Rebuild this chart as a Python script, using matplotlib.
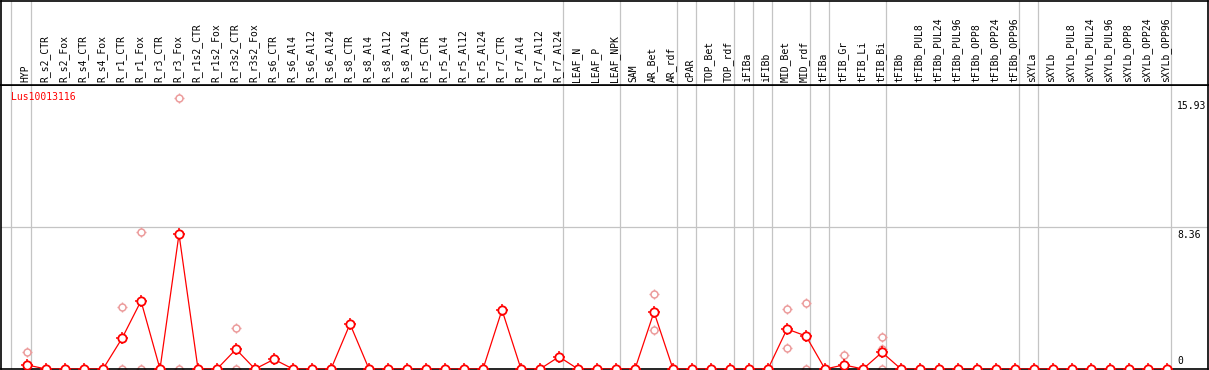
import matplotlib
matplotlib.use("Agg")
import matplotlib.pyplot as plt

# sample names (columns), left to right
samples = [
    "HYP", "R_s2_CTR", "R_s2_Fox", "R_s4_CTR", "R_s4_Fox",
    "R_r1_CTR", "R_r1_Fox", "R_r3_CTR", "R_r3_Fox",
    "R_r1s2_CTR", "R_r1s2_Fox", "R_r3s2_CTR", "R_r3s2_Fox",
    "R_s6_CTR", "R_s6_Al4", "R_s6_Al12", "R_s6_Al24",
    "R_s8_CTR", "R_s8_Al4", "R_s8_Al12", "R_s8_Al24",
    "R_r5_CTR", "R_r5_Al4", "R_r5_Al12", "R_r5_Al24",
    "R_r7_CTR", "R_r7_Al4", "R_r7_Al12", "R_r7_Al24",
    "LEAF_N", "LEAF_P", "LEAF_NPK", "SAM", "AR_Bet", "AR_rdf", "cPAR",
    "TOP_Bet", "TOP_rdf", "iFIBa", "iFIBb", "MID_Bet", "MID_rdf",
    "tFIBa", "tFIB_Gr", "tFIB_Li", "tFIB_Bi", "tFIBb",
    "tFIBb_PUL8", "tFIBb_PUL24", "tFIBb_PUL96",
    "tFIBb_OPP8", "tFIBb_OPP24", "tFIBb_OPP96",
    "sXYLa", "sXYLb", "sXYLb_PUL8", "sXYLb_PUL24", "sXYLb_PUL96",
    "sXYLb_OPP8", "sXYLb_OPP24", "sXYLb_OPP96",
]

# mean expression per sample (line)
mean_values = [
    0.24, 0, 0, 0, 0,
    1.80, 4.00, 0, 7.93,
    0, 0, 1.16, 0,
    0.57, 0, 0, 0,
    2.65, 0, 0, 0,
    0, 0, 0, 0,
    3.47, 0, 0, 0.72,
    0, 0, 0, 0, 3.35, 0, 0,
    0, 0, 0, 0, 2.35, 1.94,
    0, 0.24, 0, 0.98, 0,
    0, 0, 0,
    0, 0, 0,
    0, 0, 0, 0, 0,
    0, 0, 0,
]

# individual replicates (pale circles)
rep_samples = ["HYP", "HYP", "R_r1_CTR", "R_r1_CTR", "R_r1_Fox", "R_r1_Fox",
               "R_r3_Fox", "R_r3_Fox", "R_r3s2_CTR", "R_r3s2_CTR",
               "AR_Bet", "AR_Bet", "MID_Bet", "MID_Bet", "MID_rdf", "MID_rdf",
               "tFIB_Gr", "tFIB_Gr", "tFIB_Bi", "tFIB_Bi", "tFIB_Bi"]
rep_values = [0.98, 0, 3.63, 0, 8.04, 0,
              15.93, 0, 2.39, 0,
              4.39, 2.29, 3.51, 1.23, 3.88, 0,
              0.82, 0, 1.88, 1.18, 0]

# last sample of each group (gray separators drawn after them)
group_ends = ["HYP", "R_r7_Al24", "LEAF_NPK", "AR_rdf", "cPAR", "TOP_rdf",
              "iFIBa", "iFIBb", "MID_rdf", "tFIBa", "tFIB_Bi",
              "tFIBb_OPP96", "sXYLa", "sXYLb_OPP96"]

gene = "Lus10013116"
scale_labels = ["15.93", "8.36", "0"]
scale_values = [15.93, 8.36, 0]

W, H = 1209, 370
fig = plt.figure(figsize=(W / 100, H / 100), dpi=100)
mono = "DejaVu Sans Mono"
grey = "#c4c4c4"
red = "#ff0000"
pale = "#ec9c9c"

x_lo, x_hi = (1 - 27) / 19, (1208 - 27) / 19
pos = {s: i for i, s in enumerate(samples)}

# main plotting area
ax = fig.add_axes([1 / W, 1 / H, 1207 / W, 284 / H])
ax.set_xlim(x_lo, x_hi)
ax.set_ylim(0, 284 / 17.01)
ax.set_xticks([])
ax.set_yticks([])
for sp in ax.spines.values():
    sp.set_color("black")
    sp.set_linewidth(1.2)

# header with sample names
hx = fig.add_axes([1 / W, 285 / H, 1207 / W, 84 / H])
hx.set_xlim(x_lo, x_hi)
hx.set_ylim(84, 0)
hx.set_xticks([])
hx.set_yticks([])
for sp in hx.spines.values():
    sp.set_color("black")
    sp.set_linewidth(1.2)

seps = [-0.82] + [pos[s] + 0.19 for s in group_ends]
for x in seps:
    ax.axvline(x, color=grey, lw=0.9, zorder=0)
    hx.axvline(x, color=grey, lw=0.9, zorder=0)
ax.axhline(8.36, color=grey, lw=0.9, zorder=0)

for i, s in enumerate(samples):
    hx.text(i - 0.08, 81.5, s, rotation=90, ha="center", va="bottom",
            fontsize=7, family=mono, color="black")

# replicates
rx = [pos[s] for s in rep_samples]
ax.plot(rx, rep_values, ls="none", marker="+", ms=7, mew=1.0, color=pale, zorder=2)
ax.plot(rx, rep_values, ls="none", marker="o", ms=5, mew=1.1,
        mec=pale, mfc="white", zorder=2)

# mean line
xs = list(range(len(samples)))
ax.plot(xs, mean_values, color=red, lw=0.9, zorder=3)
ax.plot(xs, mean_values, ls="none", marker="+", ms=8.5, mew=1.1, color=red, zorder=4)
ax.plot(xs, mean_values, ls="none", marker="o", ms=6, mew=1.3,
        mec=red, mfc="white", zorder=5)

ax.text(10 / 1207, 1 - 12 / 284, gene, transform=ax.transAxes, color=red,
        fontsize=7, family=mono, ha="left", va="center")

for lab, v in zip(scale_labels, scale_values):
    va = "bottom" if v == 0 else "top"
    off = 3 if v == 0 else -3
    ax.annotate(lab, (1177, v), xycoords=("figure pixels", "data"),
                xytext=(0, off), textcoords="offset pixels",
                fontsize=7, family=mono, ha="left", va=va, color="black")

fig.savefig("out.png", dpi=100)
